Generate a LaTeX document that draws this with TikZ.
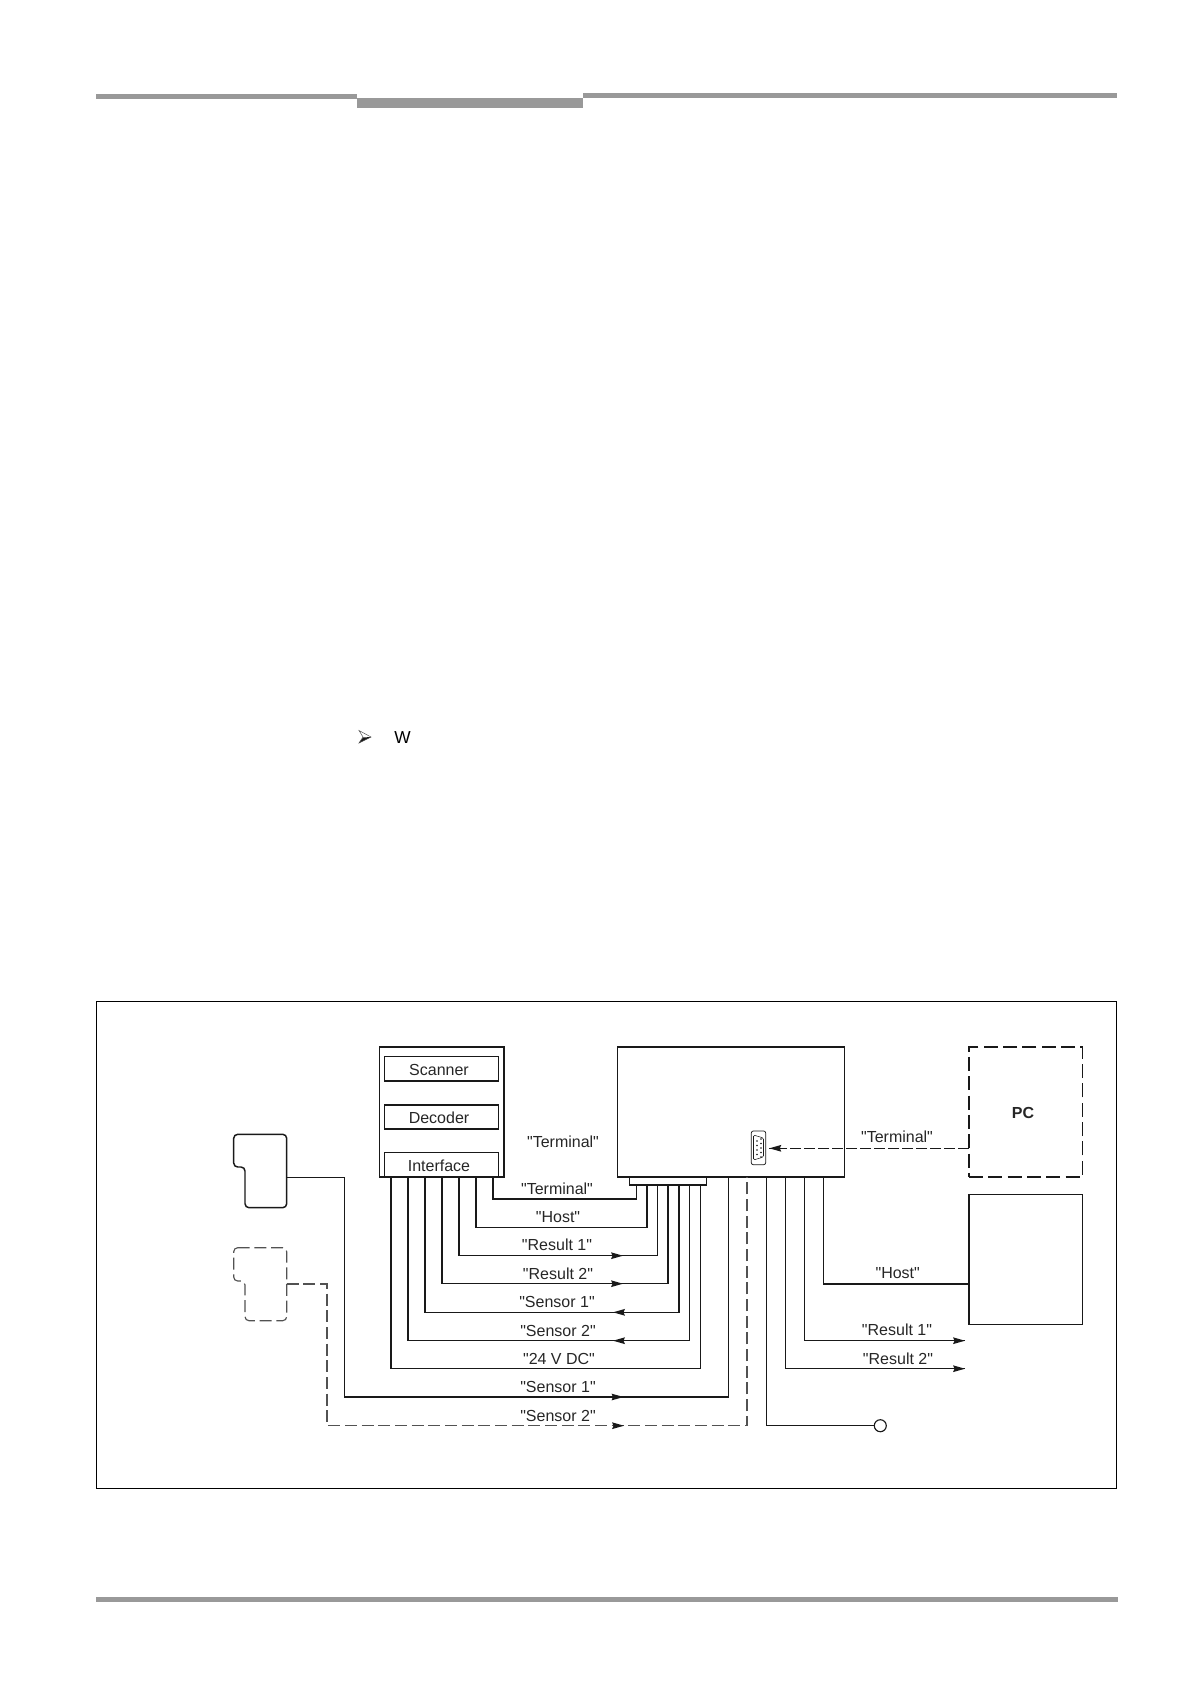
\documentclass[tikz,border=0pt]{standalone}
\usepackage{fontspec}
\setmainfont{Liberation Sans}
\newfontfamily\plainsans{Liberation Sans}
\usetikzlibrary{arrows.meta}
\tikzset{
  x=0.75pt,y=-0.75pt,
  lbl/.style={font=\plainsans\fontsize{12pt}{14pt}\selectfont,text=black!85,inner sep=0pt,anchor=center},
  heavy/.style={draw=black!90,line width=1.1pt},
  wire/.style={draw=black!90,line width=1.05pt},
  thinwire/.style={draw=black!90,line width=0.8pt},
  dashwire/.style={draw=black!68,line width=0.85pt,dash pattern=on 9pt off 3.5pt},
  rule/.style={fill=black!40,draw=none},
  boxy/.style={draw=black!90,line width=1.1pt,fill=none,inner sep=0pt,outer sep=0pt,anchor=north west},
}
\newcommand{\boxat}[6][boxy]{\node[#1,minimum width=#5*0.75pt,minimum height=#6*0.75pt] (#2) at (#3,#4) {};}
\newcommand{\righttip}[2]{\fill[black!90] (#1,#2) -- ++(-12,-3.4) -- ++(1.5,3.4) -- ++(-1.5,3.4) -- cycle;}
\newcommand{\lefttip}[2]{\fill[black!90] (#1,#2) -- ++(12,-3.4) -- ++(-1.5,3.4) -- ++(1.5,3.4) -- cycle;}
\begin{document}
\begin{tikzpicture}
\useasboundingbox (0,0) rectangle (1190,1682);
% page rules
\fill[rule] (96,93.5) rectangle (357,99);
\fill[rule] (357,98) rectangle (583,107.5);
\fill[rule] (583,92.5) rectangle (1116.5,98);
\fill[rule] (96,1597) rectangle (1118,1602);
% cut-off page text
\fill[black!90] (371,737) -- (359,743) -- (363,737.5) -- cycle;
\draw[black!70,line width=0.35pt] (359,730.5) -- (371,737) -- (359,743) -- (363,737) -- cycle;
\node[inner sep=0pt,font=\plainsans\fontsize{13pt}{15pt}\selectfont] (wtext) at (402.5,738) {W};
% frame
\draw[black,line width=0.8pt] (96.7,1001.7) rectangle (1116.7,1488.3);
% boxes
\boxat{lbox}{379.5}{1047}{124.5}{130}
\boxat{scan}{384.7}{1056.7}{113.8}{24.3}
\boxat{deco}{384.7}{1105}{113.8}{24}
\boxat{intf}{384.7}{1152.7}{113.8}{24.3}
\boxat{main}{617.3}{1047}{227}{130}
\boxat{strip}{629.3}{1177}{77.4}{8}
\boxat{host}{969}{1194.7}{113.7}{130}
\boxat[boxy,dash pattern=on 10.5pt off 4pt]{pc}{969}{1047}{113.7}{130}
\node[lbl] (tscan) at (439,1070) {Scanner};
\node[lbl] (tdeco) at (439,1117.7) {Decoder};
\node[lbl] (tintf) at (439,1166) {Interface};
\node[lbl,font=\plainsans\fontsize{12pt}{14pt}\selectfont\bfseries] (tpc) at (1023,1112.7) {PC};
% sensors
\draw[heavy,rounded corners=3pt] (233.7,1134.3) -- (286.7,1134.3) -- (286.7,1207.7) -- (245,1207.7) -- (245,1167) -- (233.7,1167) -- cycle;
\draw[dashwire,rounded corners=3pt] (233.7,1247.7) -- (286.7,1247.7) -- (286.7,1320.7) -- (245,1320.7) -- (245,1281) -- (233.7,1281) -- cycle;
\coordinate (s1) at (286.7,1177.3);
\coordinate (s2) at (286.7,1284);
% pins
\foreach \n/\x in {a/391,b/408,c/425,d/442,e/459,f/476,g/493}{\coordinate (\n) at (\x,1177);}
\foreach \n/\x in {p/636.7,q/647,r/657.3,s/668,t/679,u/689.7,v/700.3}{\coordinate (\n) at (\x,1185);}
\foreach \n/\x in {w/728.3,k/747,m/766.3,n/785.3,o/804.3,h/823.3}{\coordinate (\n) at (\x,1177);}
% wires between the two units
\draw[wire] (g) -- ++(0,22) -| (p);
\draw[thinwire] (f) -- ++(0,50.3) -| (q);
\draw[wire] (e) -- ++(0,78.7) -| (r);
\draw[wire] (d) -- ++(0,106.7) -| (s);
\draw[wire] (c) -- ++(0,135.3) -| (t);
\draw[wire] (b) -- ++(0,163.7) -| (u);
\draw[wire] (a) -- ++(0,191.7) -| (v);
% outer wires
\draw[thinwire] (s1) -| (344.3,1397) -| (w);
\draw[dashwire] (s2) -| (327,1425.7) -| (k);
\node[circle,draw=black!90,fill=white,line width=0.85pt,minimum size=9pt,inner sep=0pt] (term) at (880.3,1425.7) {};
\draw[wire] (m) |- (term);
\draw[wire] (n) |- (965,1368.7) coordinate (rtwo);
\draw[wire] (o) |- (965,1340.7) coordinate (rone);
\draw[thinwire] (h) |- (host.west |- 0,1284);
% connector
\draw[draw=black!90,line width=0.55pt,rounded corners=1.5pt] (751.3,1131) rectangle (765.7,1164.7);
\draw[draw=black!90,line width=0.4pt,rounded corners=1pt] (753.5,1135) -- (763.5,1138) -- (763.5,1157) -- (753.5,1160) -- cycle;
\foreach \y in {1139,1143.5,1148,1152.5,1157}{\fill[black!90] (761,\y) circle (0.7pt);}
\foreach \y in {1141,1145.5,1150,1154.5}{\fill[black!90] (757,\y) circle (0.7pt);}
\coordinate (conn) at (769.3,1148.3);
\draw[thinwire,line width=0.65pt,dash pattern=on 8.5pt off 2pt] (pc.west |- conn) -- (conn);
% arrow tips
\righttip{623}{1255.7}
\righttip{623}{1283.7}
\lefttip{613}{1312.3}
\lefttip{613}{1340.7}
\righttip{623.5}{1397}
\righttip{624}{1425.7}
\righttip{965}{1340.7}
\righttip{965}{1368.7}
\lefttip{769.3}{1148.3}
% labels
\node[lbl] (l1) at (563,1141.7) {"Terminal"};
\node[lbl] (l2) at (557,1189) {"Terminal"};
\node[lbl] (l3) at (558,1216.7) {"Host"};
\node[lbl] (l4) at (557,1245) {"Result 1"};
\node[lbl] (l5) at (558,1274) {"Result 2"};
\node[lbl] (l6) at (557,1302) {"Sensor 1"};
\node[lbl] (l7) at (558,1331) {"Sensor 2"};
\node[lbl] (l8) at (559,1358.7) {"24 V DC"};
\node[lbl] (l9) at (558,1387) {"Sensor 1"};
\node[lbl] (l10) at (558,1416) {"Sensor 2"};
\node[lbl] (l11) at (897,1136.7) {"Terminal"};
\node[lbl] (l12) at (897.7,1273) {"Host"};
\node[lbl] (l13) at (897,1330) {"Result 1"};
\node[lbl] (l14) at (898,1358.7) {"Result 2"};
\end{tikzpicture}
\end{document}
